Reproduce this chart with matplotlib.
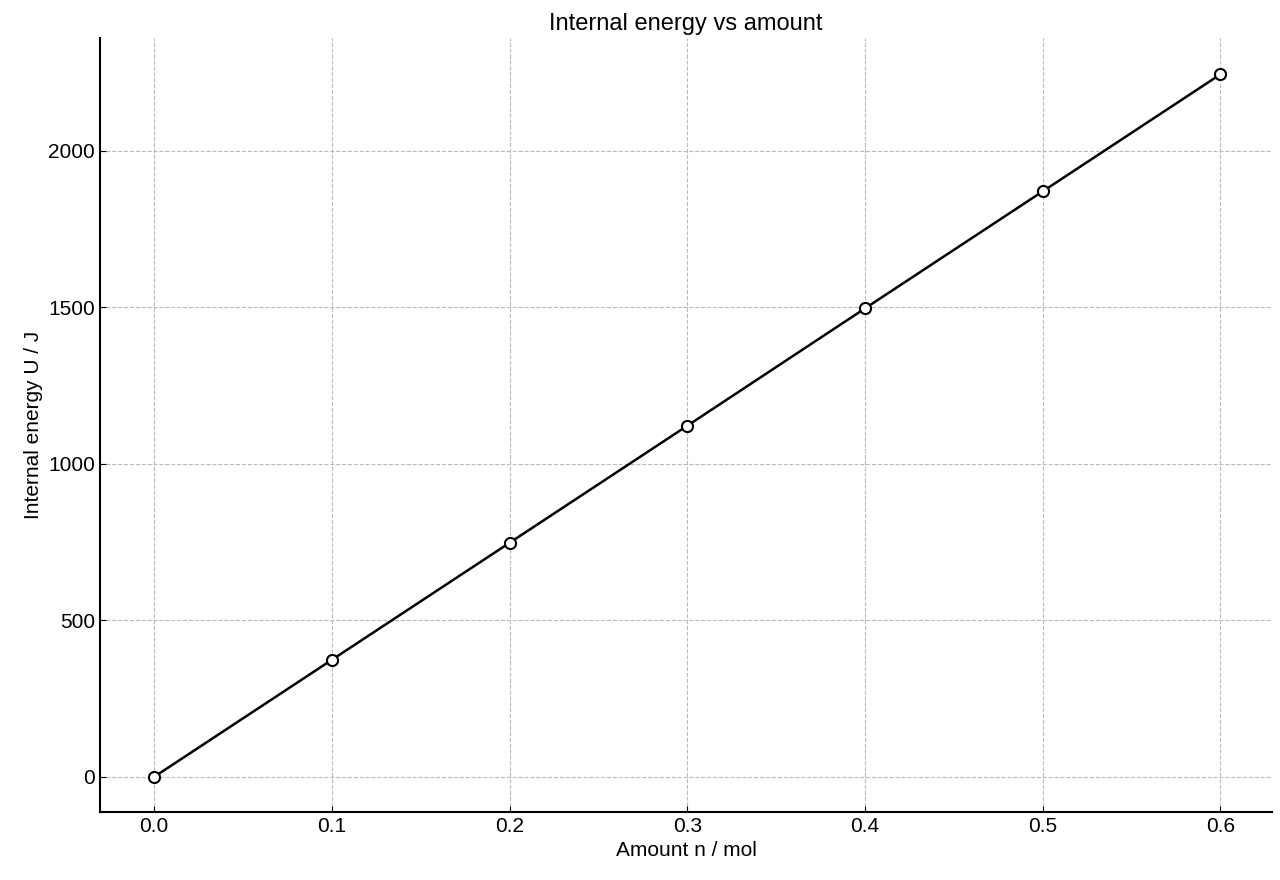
import matplotlib
matplotlib.use("Agg")
import matplotlib.pyplot as plt

amount = [0.0, 0.1, 0.2, 0.3, 0.4, 0.5, 0.6]
energy = [0, 374, 748, 1122, 1497, 1871, 2245]

plt.rcParams['font.family'] = ['Liberation Sans', 'DejaVu Sans']
fig = plt.figure(figsize=(12.8, 8.8), dpi=100)
ax = fig.add_axes([100/1280, 1-812/880, 1172/1280, 774/880])
ax.plot(amount, energy, color='black', lw=1.8, marker='o', ms=8,
        mfc='white', mec='black', mew=1.5, zorder=3)
ax.set_xlim(-0.0304, 0.629)
ax.set_ylim(-112, 2361)
ax.set_xticks(amount)
ax.set_yticks([0, 500, 1000, 1500, 2000])
ax.grid(True, ls='--', color='#bbbbbb', lw=0.8)
ax.spines['top'].set_visible(False)
ax.spines['right'].set_visible(False)
ax.spines['left'].set_linewidth(1.5)
ax.spines['bottom'].set_linewidth(1.5)
ax.tick_params(direction='in', labelsize=15, length=4)
ax.set_xlabel('Amount n / mol', fontsize=15)
ax.set_ylabel('Internal energy U / J', fontsize=15)
ax.set_title('Internal energy vs amount', fontsize=17)
fig.savefig('out.png', dpi=100)
